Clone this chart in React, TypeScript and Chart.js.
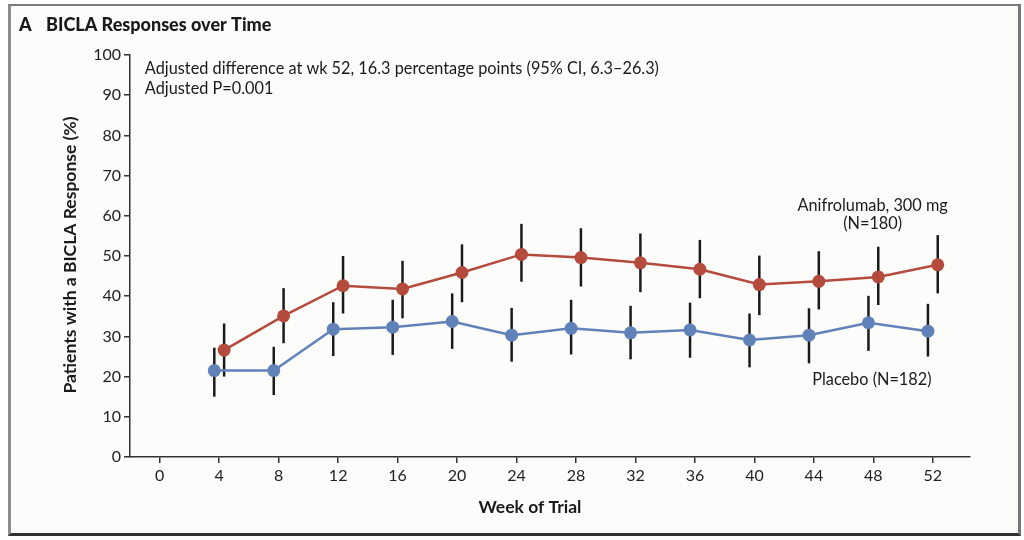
import React, { useEffect, useRef } from "react";
import { Chart, registerables } from "chart.js";

Chart.register(...registerables);

const weeks = [4, 8, 12, 16, 20, 24, 28, 32, 36, 40, 44, 48, 52];
const xTickLabels = [0, 4, 8, 12, 16, 20, 24, 28, 32, 36, 40, 44, 48, 52];
const yTickLabels = [0, 10, 20, 30, 40, 50, 60, 70, 80, 90, 100];

const aniMean = [26.6, 35.1, 42.6, 41.8, 45.9, 50.4, 49.6, 48.3, 46.7, 42.9, 43.7, 44.8, 47.8];
const aniLow = [20.0, 28.3, 35.7, 34.5, 38.5, 43.6, 42.4, 41.0, 39.5, 35.3, 36.7, 37.8, 40.7];
const aniHigh = [33.2, 42.0, 50.0, 48.8, 52.9, 58.0, 56.9, 55.6, 54.0, 50.1, 51.2, 52.3, 55.2];

const plaMean = [21.5, 21.5, 31.8, 32.3, 33.7, 30.3, 32.0, 30.9, 31.6, 29.1, 30.3, 33.4, 31.3];
const plaLow = [15.0, 15.4, 25.1, 25.4, 26.9, 23.7, 25.5, 24.3, 24.7, 22.3, 23.3, 26.4, 25.0];
const plaHigh = [27.2, 27.4, 38.5, 39.1, 40.7, 37.1, 39.1, 37.6, 38.4, 35.7, 37.0, 40.1, 38.1];

const aniOffset = 0.33;
const plaOffset = -0.33;

const RED = "#b44b3d";
const BLUE = "#6182b8";
const FONT = "Lato, 'Noto Sans', sans-serif";

const titleText = "BICLA Responses over Time";
const panelLetter = "A";
const noteLine1 = "Adjusted difference at wk 52, 16.3 percentage points (95% CI, 6.3–26.3)";
const noteLine2 = "Adjusted P=0.001";
const aniLabel1 = "Anifrolumab, 300 mg";
const aniLabel2 = "(N=180)";
const plaLabel = "Placebo (N=182)";
const yTitle = "Patients with a BICLA Response (%)";
const xTitle = "Week of Trial";

export default function App() {
  const ref = useRef<HTMLCanvasElement | null>(null);

  useEffect(() => {
    const canvas = ref.current;
    if (!canvas) return;

    const errorBars = {
      id: "errorBars",
      beforeDatasetsDraw(chart: any) {
        const { ctx, scales } = chart;
        const x = scales.x;
        const y = scales.y;
        ctx.save();
        ctx.strokeStyle = "#1a1a1a";
        ctx.lineWidth = 2.5;
        const draw = (lows: number[], highs: number[], off: number) => {
          weeks.forEach((w, i) => {
            const px = x.getPixelForValue(w + off);
            ctx.beginPath();
            ctx.moveTo(px, y.getPixelForValue(lows[i]));
            ctx.lineTo(px, y.getPixelForValue(highs[i]));
            ctx.stroke();
          });
        };
        draw(plaLow, plaHigh, plaOffset);
        draw(aniLow, aniHigh, aniOffset);
        ctx.restore();
      },
    };

    const texts = {
      id: "texts",
      afterDraw(chart: any) {
        const { ctx, scales } = chart;
        const x = scales.x;
        const y = scales.y;
        ctx.save();
        ctx.fillStyle = "#1a1a1a";
        ctx.textBaseline = "middle";
        // panel title
        ctx.font = `900 18px ${FONT}`;
        ctx.textAlign = "left";
        ctx.fillText(panelLetter, 19, 25);
        ctx.fillText(titleText, 46, 25);
        // note
        ctx.font = `16.3px ${FONT}`;
        ctx.fillText(noteLine1, x.getPixelForValue(-1.0), y.getPixelForValue(96.5));
        ctx.fillText(noteLine2, x.getPixelForValue(-1.0), y.getPixelForValue(91.5));
        // series labels
        ctx.textAlign = "center";
        ctx.fillText(aniLabel1, x.getPixelForValue(47.95), y.getPixelForValue(62.4));
        ctx.fillText(aniLabel2, x.getPixelForValue(47.95), y.getPixelForValue(58.0));
        ctx.fillText(plaLabel, x.getPixelForValue(47.9), y.getPixelForValue(19.2));
        // axis titles
        ctx.font = `bold 17.5px ${FONT}`;
        ctx.fillText(xTitle, 530, 507);
        ctx.translate(70, 255);
        ctx.rotate(-Math.PI / 2);
        ctx.fillText(yTitle, 0, 0);
        ctx.restore();
      },
    };

    const chart = new Chart(canvas, {
      type: "line",
      data: {
        datasets: [
          {
            label: "Placebo",
            data: weeks.map((w, i) => ({ x: w + plaOffset, y: plaMean[i] })),
            borderColor: BLUE,
            backgroundColor: BLUE,
            borderWidth: 2.5,
            pointRadius: 6.5,
            pointBorderWidth: 0,
            tension: 0,
          },
          {
            label: "Anifrolumab",
            data: weeks.map((w, i) => ({ x: w + aniOffset, y: aniMean[i] })),
            borderColor: RED,
            backgroundColor: RED,
            borderWidth: 2.5,
            pointRadius: 6.5,
            pointBorderWidth: 0,
            tension: 0,
          },
        ],
      },
      options: {
        responsive: false,
        animation: false,
        events: [],
        layout: { padding: { left: 0, right: 54, top: 55, bottom: 0 } },
        plugins: {
          legend: { display: false },
          tooltip: { enabled: false },
          title: { display: false },
        },
        scales: {
          x: {
            type: "linear",
            min: -2,
            max: 54.5,
            afterBuildTicks: (scale: any) => {
              scale.ticks = xTickLabels.map((v) => ({ value: v }));
            },
            afterFit: (scale: any) => {
              scale.height = 83;
            },
            ticks: {
              color: "#222",
              font: { family: FONT, size: 16 },
              padding: 3,
              maxRotation: 0,
              autoSkip: false,
              callback: (v: any) => String(v),
            },
            grid: {
              drawOnChartArea: false,
              drawTicks: true,
              tickLength: 6,
              color: "#333",
              lineWidth: 1.5,
            },
            border: { display: true, color: "#333", width: 1.5 },
          },
          y: {
            type: "linear",
            min: 0,
            max: 100,
            afterBuildTicks: (scale: any) => {
              scale.ticks = yTickLabels.map((v) => ({ value: v }));
            },
            afterFit: (scale: any) => {
              scale.width = 130;
            },
            ticks: {
              color: "#222",
              font: { family: FONT, size: 16 },
              padding: 3,
              autoSkip: false,
              callback: (v: any) => String(v),
            },
            grid: {
              drawOnChartArea: false,
              drawTicks: true,
              tickLength: 6,
              color: "#333",
              lineWidth: 1.5,
            },
            border: { display: true, color: "#333", width: 1.5 },
          },
        },
      },
      plugins: [errorBars, texts],
    } as any);

    return () => chart.destroy();
  }, []);

  return (
    <div style={{ position: "fixed", left: 0, top: 0, width: 1024, height: 540, background: "#ffffff" }}>
      <div
        style={{
          position: "absolute",
          left: 8,
          top: 4,
          width: 1007,
          height: 527,
          borderLeft: "3px solid #8c8c8c",
          borderTop: "2px solid #7a7a7a",
          borderRight: "3px solid #767676",
          borderBottom: "3px solid #333",
          background: "#fcfcfa",
        }}
      />
      <canvas ref={ref} width={1024} height={540} style={{ position: "absolute", left: 0, top: 0 }} />
    </div>
  );
}
